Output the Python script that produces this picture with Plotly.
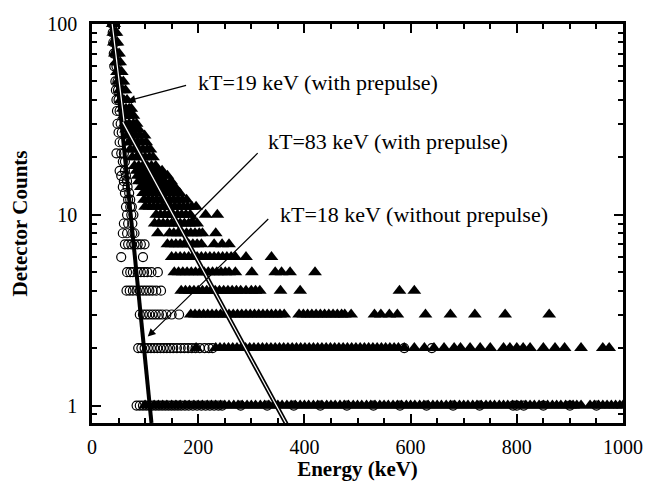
import numpy as np
import plotly.graph_objects as go

# ---------------- data ----------------
# With prepulse (filled triangles): energies (keV) observed at each count level
tri_levels = [1, 2, 3, 4, 5, 6, 7, 8, 9, 10, 11, 12, 13, 14, 15, 16, 17, 18, 20, 22,
              24, 26, 28, 30, 33, 36, 40, 45, 50, 56, 63, 70, 80, 90, 100]
tri_energies = [
    [100, 108, 117, 125, 133, 141, 150, 158, 166, 175, 183, 192, 200, 208, 217, 225, 233, 242,
     250, 258, 267, 275, 283, 292, 300, 308, 317, 325, 333, 342, 350, 358, 367, 375, 383, 392,
     400, 408, 417, 425, 433, 442, 450, 458, 467, 475, 483, 492, 500, 508, 517, 525, 533, 542,
     550, 558, 567, 575, 583, 592, 600, 608, 617, 625, 633, 642, 650, 658, 667, 675, 683, 692,
     700, 708, 717, 725, 733, 742, 750, 758, 767, 775, 783, 792, 800, 808, 817, 825, 833, 842,
     850, 858, 867, 875, 883, 892, 900, 906, 913, 921, 938, 946, 954, 962, 970, 978, 986, 994, 1000],
    [196, 233, 241, 249, 257, 265, 273, 281, 289, 297, 305, 313, 321, 329, 337, 345, 353, 361,
     369, 377, 385, 393, 401, 409, 417, 425, 433, 441, 449, 457, 465, 473, 481, 489, 497, 505,
     513, 521, 529, 537, 545, 553, 561, 569, 577, 588, 607, 626, 644, 663, 682, 694, 712, 731,
     750, 775, 787, 800, 812, 825, 850, 872, 890, 921, 962, 974],
    [186, 194, 202, 210, 218, 226, 234, 242, 250, 258, 266, 274, 282, 290, 298, 306, 314, 322,
     330, 338, 346, 354, 362, 390, 398, 406, 414, 422, 430, 438, 446, 454, 462, 470, 476, 488,
     532, 544, 560, 575, 628, 675, 721, 778, 861],
    [168, 176, 184, 192, 200, 208, 216, 224, 232, 240, 248, 256, 264, 272, 280, 290, 300, 308,
     316, 355, 392, 579, 607],
    [155, 163, 171, 179, 187, 195, 203, 211, 219, 227, 235, 243, 251, 258, 270, 301, 345, 357,
     373, 420],
    [150, 158, 166, 174, 182, 190, 198, 206, 214, 222, 230, 238, 246, 254, 262, 270, 290, 338],
    [142, 150, 158, 166, 174, 182, 190, 198, 206, 230, 245, 258],
    [124, 146, 154, 162, 170, 178, 186, 194, 202, 208, 233],
    [118, 126, 134, 142, 150, 158, 166, 174, 182, 190, 198],
    [121, 129, 137, 145, 153, 161, 169, 177, 185, 214, 236],
    [100, 108, 116, 124, 132, 140, 148, 156, 164, 172, 180, 188, 196],
    [98, 106, 114, 122, 130, 138, 146, 154, 162, 170, 178],
    [96, 104, 112, 120, 128, 136, 144, 152, 160, 165],
    [92, 100, 108, 116, 124, 132, 140, 148, 156],
    [88, 96, 104, 112, 120, 128, 136, 149],
    [86, 94, 102, 110, 118, 126, 134, 142],
    [84, 92, 100, 108, 116, 124, 132],
    [80, 88, 96, 104, 112, 120],
    [76, 84, 92, 100, 108, 115],
    [72, 80, 88, 96, 104, 110],
    [70, 78, 86, 94, 102],
    [66, 74, 82, 90, 99],
    [64, 72, 80, 88],
    [62, 70, 78, 84],
    [60, 66, 72, 78],
    [58, 64, 70, 74],
    [54, 60, 66],
    [52, 58, 63],
    [49, 54, 59],
    [47, 52, 56],
    [45, 49, 53],
    [43, 47, 51],
    [41, 45, 48],
    [40, 43, 46],
    [39, 42],
]

# Without prepulse (open circles)
circ_levels = [1, 2, 3, 4, 5, 6, 7, 8, 9, 10, 11, 12, 13, 14, 15, 16, 17, 19, 21, 24,
               27, 30, 35, 40, 45, 50, 60, 70, 80, 90, 100]
circ_energies = [
    [84, 90, 96, 102, 108, 114, 120, 126, 132, 138, 144, 150, 156, 162, 168, 175, 182, 190,
     198, 206, 214, 222, 230, 238, 245, 280, 330, 380, 430, 480, 530, 580, 630, 680, 730,
     793, 800, 813, 850, 900, 950],
    [87, 93, 99, 105, 111, 117, 123, 129, 135, 141, 147, 153, 160, 167, 174, 181, 188, 195,
     203, 212, 220, 227, 588, 640],
    [90, 96, 102, 108, 114, 120, 126, 132, 140, 150, 164],
    [65, 71, 77, 84, 90, 96, 102, 108, 114, 121, 130],
    [66, 72, 77, 86, 92, 98, 104, 112, 124],
    [55, 96],
    [62, 68, 74, 80, 86, 92, 99],
    [58, 66, 76, 80],
    [60, 68, 76],
    [66, 74, 78],
    [64, 72, 75],
    [68, 72],
    [62, 70],
    [58, 67],
    [60, 66],
    [55, 64],
    [52, 62],
    [58, 62],
    [46, 55, 60],
    [52, 58],
    [50, 56],
    [48, 54],
    [47, 52],
    [46, 50],
    [45, 49],
    [44, 48],
    [42, 46],
    [41, 44],
    [40, 43],
    [39, 42],
    [38, 41],
]

# Exponential fits (end points)
fit18_E = [37, 112]          # kT=18 keV (without prepulse)
fit18_counts = [100, 0.81]
fit19_E = [38, 62]           # kT=19 keV (with prepulse)
fit19_counts = [100, 28.3]
fit83_E = [58, 375]          # kT=83 keV (with prepulse)
fit83_counts = [30.6, 0.72]

labels = ["kT=19 keV (with prepulse)", "kT=83 keV (with prepulse)",
          "kT=18 keV (without prepulse)"]
label_x = [195, 327, 350]
label_y = [49.1, 24.1, 10.0]
arrow_x = [67, 183, 105]
arrow_y = [39.5, 9.2, 2.3]
arrow_ax = [60, 70, 122]
arrow_ay = [-16, -70, -119]

# ---------------- build ----------------
tri_x, tri_y = [], []
for lev, es in zip(tri_levels, tri_energies):
    tri_x += es
    tri_y += [lev] * len(es)
circ_x, circ_y = [], []
for lev, es in zip(circ_levels, circ_energies):
    circ_x += es
    circ_y += [lev] * len(es)

FONT = "Liberation Serif, Times New Roman, serif"
fig = go.Figure()
fig.add_trace(go.Scatter(x=tri_x, y=tri_y, mode="markers",
                         marker=dict(symbol="triangle-up", size=12, color="black"),
                         showlegend=False))
fig.add_trace(go.Scatter(x=circ_x, y=circ_y, mode="markers",
                         marker=dict(symbol="circle-open", size=9, color="black",
                                     line=dict(width=1.2, color="black")),
                         showlegend=False))
fig.add_trace(go.Scatter(x=fit18_E, y=fit18_counts, mode="lines",
                         line=dict(color="black", width=4), showlegend=False))
for ex, cy in ((fit19_E, fit19_counts), (fit83_E, fit83_counts)):
    fig.add_trace(go.Scatter(x=ex, y=cy, mode="lines",
                             line=dict(color="black", width=4.5), showlegend=False))
    fig.add_trace(go.Scatter(x=ex, y=cy, mode="lines",
                             line=dict(color="white", width=1.2), showlegend=False))

for t, x, y in zip(labels, label_x, label_y):
    fig.add_annotation(x=x, y=np.log10(y), text=t, showarrow=False, xanchor="left",
                       yanchor="middle", font=dict(family=FONT, size=22, color="black"))
for x, y, ax, ay in zip(arrow_x, arrow_y, arrow_ax, arrow_ay):
    fig.add_annotation(x=x, y=np.log10(y), ax=ax, ay=ay, text="", showarrow=True,
                       arrowhead=2, arrowsize=1.3, arrowwidth=1.2, arrowcolor="black")

fig.update_layout(
    width=643, height=473,
    margin=dict(l=84, r=28, t=16, b=58),
    paper_bgcolor="white", plot_bgcolor="white",
    font=dict(family=FONT, color="black", size=20),
)
fig.update_xaxes(
    range=[0, 1000], tickmode="array", tickvals=[0, 200, 400, 600, 800, 1000],
    ticks="inside", ticklen=9, tickwidth=2, tickcolor="black",
    showline=True, linewidth=2.5, linecolor="black", mirror="allticks",
    showgrid=False, zeroline=False, automargin=False, ticklabeloverflow="allow",
    ticklabelstandoff=4,
    minor=dict(ticks="inside", ticklen=5, tickwidth=2, tickcolor="black", dtick=50),
    tickfont=dict(family=FONT, size=20),
    title=dict(text="<b>Energy (keV)</b>", font=dict(family=FONT, size=21), standoff=9),
)
fig.update_yaxes(
    type="log", range=[np.log10(0.81), 2], tickmode="array", tickvals=[1, 10, 100],
    ticktext=["1", "10", "100"],
    ticks="inside", ticklen=9, tickwidth=2, tickcolor="black",
    showline=True, linewidth=2.5, linecolor="black", mirror="allticks",
    showgrid=False, zeroline=False, ticklabelstandoff=8, automargin=False,
    ticklabeloverflow="allow",
    minor=dict(ticks="inside", ticklen=5, tickwidth=2, tickcolor="black",
               tickmode="array", tickvals=[0.9, 2, 3, 4, 5, 6, 7, 8, 9,
                                           20, 30, 40, 50, 60, 70, 80, 90]),
    tickfont=dict(family=FONT, size=20),
    title=dict(text="<b>Detector Counts</b>", font=dict(family=FONT, size=21), standoff=18),
)
fig.write_html("out.html")
